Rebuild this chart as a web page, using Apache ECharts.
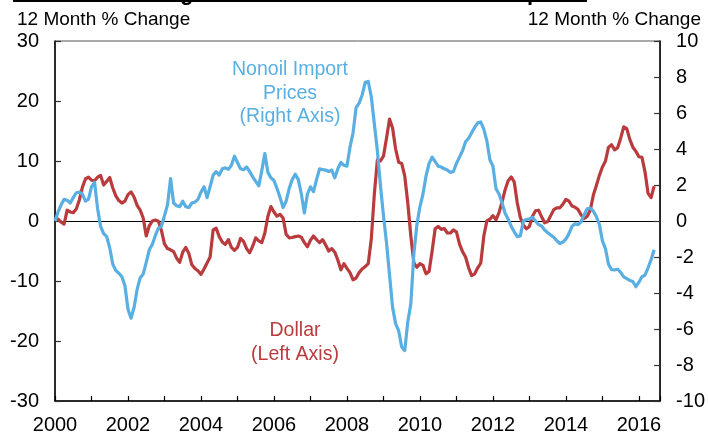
<!DOCTYPE html>
<html>
<head>
<meta charset="utf-8">
<script src="https://cdn.jsdelivr.net/npm/echarts@6/dist/echarts.min.js"></script>
<style>
html,body{margin:0;padding:0;background:#fff;}
#chart{width:708px;height:435px;}
</style>
</head>
<body>
<div id="chart"></div>
<script>
// Monthly data, Jan 2000 onward (12-month % change)
const startYear = 2000;
const dollarLeftAxis = [
  0.7, 0.3, -0.2, -0.5, 1.8, 1.5, 1.4, 2.0, 3.5, 5.6, 7.0, 7.3,
  6.8, 6.7, 7.3, 7.6, 6.0, 6.6, 7.25, 5.5, 4.2, 3.4, 3.0, 3.3,
  4.4, 4.85, 4.0, 2.6, 1.8, 0.5, -2.5, -0.8, 0.0, 0.15, -0.05, -1.6,
  -3.8, -4.6, -4.8, -5.1, -6.2, -6.9, -5.2, -4.4, -5.4, -7.3, -7.9, -8.3,
  -8.9, -8.0, -7.0, -6.0, -1.5, -1.2, -2.6, -3.5, -3.9, -3.1, -4.4, -4.9,
  -4.4, -2.9, -3.4, -4.6, -5.3, -4.2, -2.8, -3.3, -3.6, -2.0, 0.8, 2.4,
  1.5, 0.8, 1.1, 0.5, -2.2, -2.8, -2.75, -2.6, -2.5, -2.7, -3.6, -4.3,
  -3.2, -2.5, -3.1, -3.6, -3.1, -4.0, -5.0, -4.6, -5.2, -6.5, -8.15, -7.1,
  -7.9, -8.6, -9.8, -9.5, -8.6, -8.0, -7.6, -7.1, -3.0, 4.5, 10.2, 10.0,
  10.8, 13.8, 17.0, 15.5, 12.0, 9.8, 9.6, 7.5, 3.0, -2.5, -7.0, -7.7,
  -7.1, -7.4, -8.8, -8.4, -5.0, -1.3, -0.9, -1.4, -1.25, -2.0, -2.0, -1.5,
  -1.8, -3.8, -5.1, -6.0, -7.8, -9.1, -8.8, -7.8, -7.0, -2.5, 0.0, 0.3,
  0.9, 0.2, 1.4, 3.2, 5.2, 6.7, 7.35, 6.5, 3.0, 0.6, -0.7, -1.3,
  -0.9, 0.8, 1.7, 1.8, 0.7, -0.3, -0.1, 0.9, 1.9, 2.2, 2.2, 2.8,
  3.6, 3.3, 2.5, 2.3, 1.9, 1.0, 0.4, 0.8, 1.8, 4.3, 5.9, 7.6,
  9.0, 10.0, 12.3, 12.7, 11.85, 12.2, 13.8, 15.7, 15.4, 13.6, 12.3, 11.6,
  10.7, 10.6, 8.2, 4.6, 3.9, 5.8
];
const nonoilImportRightAxis = [
  0.0, 0.5, 0.9, 1.2, 1.15, 1.0, 1.3, 1.57, 1.6, 1.5, 1.1, 1.2,
  1.9, 2.15, 0.7, -0.3, -0.7, -0.87, -1.5, -2.4, -2.75, -2.9, -3.1, -3.6,
  -4.9, -5.4, -4.8, -3.8, -3.16, -2.95, -2.3, -1.6, -1.3, -0.8, -0.4, -0.3,
  0.3, 0.9, 2.35, 1.0, 0.85, 0.8, 1.1, 0.8, 0.75, 1.0, 1.05, 1.2,
  1.6, 1.9, 1.3, 1.9, 2.55, 2.74, 2.55, 2.9, 2.95, 2.87, 3.1, 3.6,
  3.25, 2.9, 2.85, 3.0, 2.75, 2.45, 2.2, 1.95, 2.8, 3.75, 2.7, 2.4,
  2.25, 1.8, 1.3, 0.75, 1.1, 1.8, 2.3, 2.6, 2.3, 1.5, 0.45, 1.5,
  1.9, 1.63, 2.3, 2.9, 2.85, 2.83, 2.75, 2.83, 2.4, 2.9, 3.25, 3.1,
  3.05, 4.1, 4.9, 6.3, 6.55, 7.0, 7.7, 7.75, 6.9, 5.4, 3.9, 2.0,
  0.3, -1.2, -3.0, -4.8, -5.7, -6.1, -7.0, -7.2, -5.6, -4.6, -1.8, -0.2,
  0.8, 1.5, 2.5, 3.2, 3.55, 3.3, 3.05, 3.0, 2.9, 2.83, 2.7, 2.75,
  3.2, 3.55, 3.9, 4.4, 4.6, 4.9, 5.2, 5.45, 5.5, 5.1, 4.45, 3.4,
  3.05, 1.8, 1.5, 1.0, 0.43, 0.1, -0.3, -0.6, -0.87, -0.83, 0.0, 0.08,
  0.12, 0.2, 0.0, -0.2, -0.28, -0.5, -0.65, -0.78, -0.9, -1.1, -1.25, -1.17,
  -1.0, -0.7, -0.3, -0.15, -0.2, -0.04, 0.35, 0.68, 0.72, 0.55, 0.25, -0.2,
  -1.1, -1.55, -2.4, -2.7, -2.72, -2.68, -2.85, -3.1, -3.2, -3.3, -3.36, -3.65,
  -3.4, -3.1, -3.0, -2.6, -2.15, -1.6
];
const xTickYears = [2000, 2002, 2004, 2006, 2008, 2010, 2012, 2014, 2016];
const leftTicks = [-30, -20, -10, 0, 10, 20, 30];
const rightTicks = [-10, -8, -6, -4, -2, 0, 2, 4, 6, 8, 10];

const FONT = "'Liberation Sans', Arial, Helvetica, sans-serif";
const BLUE = '#5AAFE2';
const RED = '#BA3B3D';

const toPoints = arr => arr.map((v, i) => [startYear + i / 12, v]);

const chart = echarts.init(document.getElementById('chart'), null, {renderer: 'canvas'});
chart.setOption({
  animation: false,
  backgroundColor: '#fff',
  grid: {left: 55, right: 46, top: 41, bottom: 34, show: true, borderColor: '#555', borderWidth: 1},
  xAxis: {
    type: 'value', min: 2000, max: 2016.58, interval: 1,
    axisLine: {show: true, onZero: false, lineStyle: {color: '#000', width: 1.5}},
    axisTick: {show: true, inside: true, length: 5, lineStyle: {color: '#000', width: 1.2}},
    axisLabel: {
      margin: 14, color: '#000', fontSize: 20, fontFamily: FONT,
      formatter: v => xTickYears.includes(v) ? String(v) : ''
    },
    splitLine: {show: false}
  },
  yAxis: [
    {
      type: 'value', min: leftTicks[0], max: leftTicks[leftTicks.length - 1], interval: 10, position: 'left',
      axisLine: {show: true, lineStyle: {color: '#000', width: 1.5}},
      axisTick: {show: true, inside: true, length: 6, lineStyle: {color: '#333', width: 1.2}},
      axisLabel: {margin: 16, color: '#000', fontSize: 20, fontFamily: FONT},
      splitLine: {show: true, lineStyle: {color: ['rgba(0,0,0,0)','rgba(0,0,0,0)','rgba(0,0,0,0)','#000','rgba(0,0,0,0)','rgba(0,0,0,0)','rgba(0,0,0,0)'], width: 1}}
    },
    {
      type: 'value', min: rightTicks[0], max: rightTicks[rightTicks.length - 1], interval: 2, position: 'right',
      axisLine: {show: true, lineStyle: {color: '#000', width: 1.5}},
      axisTick: {show: true, inside: true, length: 6, lineStyle: {color: '#333', width: 1.2}},
      axisLabel: {margin: 16, color: '#000', fontSize: 20, fontFamily: FONT},
      splitLine: {show: false}
    }
  ],
  series: [
    {
      name: 'Dollar', type: 'line', yAxisIndex: 0, data: toPoints(dollarLeftAxis),
      showSymbol: false, symbol: 'none', smooth: false,
      lineStyle: {color: RED, width: 3.2, join: 'round'}, z: 3
    },
    {
      name: 'Nonoil Import Prices', type: 'line', yAxisIndex: 1, data: toPoints(nonoilImportRightAxis),
      showSymbol: false, symbol: 'none', smooth: false,
      lineStyle: {color: BLUE, width: 3.2, join: 'round'}, z: 4
    }
  ],
  graphic: [
    {type: 'rect', left: 13, top: 0, shape: {width: 574, height: 2}, style: {fill: '#000'}},
    {type: 'text', x: 180, y: -17, style: {text: 'g', font: 'bold 22px ' + FONT, fill: '#000', textVerticalAlign: 'top'}},
    {type: 'text', x: 527, y: -17, style: {text: 'p', font: 'bold 22px ' + FONT, fill: '#000', textVerticalAlign: 'top'}},
    {type: 'text', x: 17, y: 20, style: {text: '12 Month % Change', font: '19px ' + FONT, fill: '#000', textAlign: 'left', textVerticalAlign: 'middle'}},
    {type: 'text', x: 701, y: 20, style: {text: '12 Month % Change', font: '19px ' + FONT, fill: '#000', textAlign: 'right', textVerticalAlign: 'middle'}},
    {type: 'text', x: 290, y: 70, style: {text: 'Nonoil Import', font: '19.5px ' + FONT, fill: BLUE, textAlign: 'center', textVerticalAlign: 'middle'}},
    {type: 'text', x: 290, y: 93.5, style: {text: 'Prices', font: '19.5px ' + FONT, fill: BLUE, textAlign: 'center', textVerticalAlign: 'middle'}},
    {type: 'text', x: 290, y: 117, style: {text: '(Right Axis)', font: '19.5px ' + FONT, fill: BLUE, textAlign: 'center', textVerticalAlign: 'middle'}},
    {type: 'text', x: 295, y: 331, style: {text: 'Dollar', font: '19.5px ' + FONT, fill: RED, textAlign: 'center', textVerticalAlign: 'middle'}},
    {type: 'text', x: 295, y: 355, style: {text: '(Left Axis)', font: '19.5px ' + FONT, fill: RED, textAlign: 'center', textVerticalAlign: 'middle'}}
  ]
});
</script>
</body>
</html>
